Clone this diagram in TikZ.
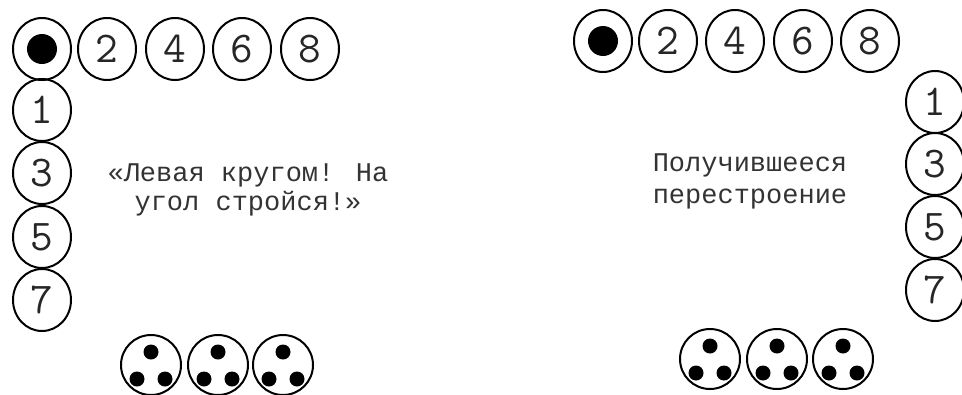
\documentclass[tikz,border=0pt]{standalone}
\usepackage{fontspec}
\newfontfamily\cour{Liberation Mono}
\usetikzlibrary{shapes.geometric}

\begin{document}
\begin{tikzpicture}[x=1pt, y=-1pt]
    \tikzstyle{man} = [draw=black, ellipse, line width=2pt, inner sep=0pt,
                       minimum width=58pt, minimum height=62pt,
                       font=\ttfamily\fontsize{44}{44}\selectfont, text=black!85];
    \tikzstyle{lead} = [man, path picture={\fill[black] (path picture bounding box.center) circle (15pt);}];
    \tikzstyle{trio} = [man, minimum width=60pt, minimum height=60pt,
                        path picture={
                          \fill[black] ([yshift=13pt]path picture bounding box.center) circle (7.5pt);
                          \fill[black] ([xshift=-14pt, yshift=-14pt]path picture bounding box.center) circle (7.5pt);
                          \fill[black] ([xshift=14pt, yshift=-14pt]path picture bounding box.center) circle (7.5pt);}];
    \tikzstyle{cmd} = [align=center, font=\cour\fontsize{27}{29}\selectfont, text=black!80];
    \useasboundingbox (0,0) rectangle (962,394);

    % before the command
    \node (a_0) at ( 42, 49) [lead]{};
    \node (a_2) at (107, 49) [man]{2};
    \node (a_4) at (175, 49) [man]{4};
    \node (a_6) at (242, 49) [man]{6};
    \node (a_8) at (310, 49) [man]{8};
    \node (a_1) at ( 42,110) [man]{1};
    \node (a_3) at ( 42,173) [man]{3};
    \node (a_5) at ( 42,237) [man]{5};
    \node (a_7) at ( 42,300) [man]{7};
    \node (t_1) at (151,365) [trio]{};
    \node (t_2) at (218,365) [trio]{};
    \node (t_3) at (283,365) [trio]{};
    \node (cmd) at (248,190) [cmd]{«Левая кругом! На\\угол стройся!»};

    % after the command
    \node (b_0) at (603, 41) [lead]{};
    \node (b_2) at (668, 41) [man]{2};
    \node (b_4) at (735, 41) [man]{4};
    \node (b_6) at (803, 41) [man]{6};
    \node (b_8) at (870, 41) [man]{8};
    \node (b_1) at (935,102) [man]{1};
    \node (b_3) at (935,164) [man]{3};
    \node (b_5) at (935,227) [man]{5};
    \node (b_7) at (935,290) [man]{7};
    \node (u_1) at (710,359) [trio]{};
    \node (u_2) at (777,359) [trio]{};
    \node (u_3) at (843,359) [trio]{};
    \node (res) at (750,181) [cmd, font=\cour\fontsize{27}{32}\selectfont]{Получившееся\\перестроение};
\end{tikzpicture}
\end{document}
